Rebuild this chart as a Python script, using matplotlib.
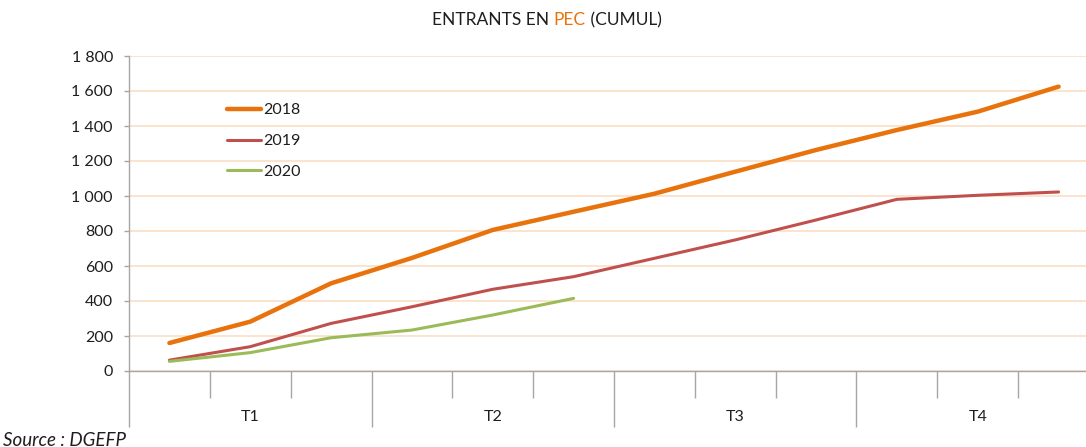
import numpy as np
import matplotlib.pyplot as plt
from matplotlib import transforms

plt.rcParams['font.family'] = ['Lato', 'DejaVu Sans']

# cumulative entries per month
months = np.arange(12)
quarters = ["T1", "T2", "T3", "T4"]
y2018 = [160, 282, 501, 646, 806, 910, 1013, 1139, 1263, 1377, 1482, 1625]
y2019 = [62, 139, 272, 367, 467, 539, 644, 749, 863, 981, 1004, 1023]
y2020 = [55, 105, 190, 234, 320, 415]

W, H = 1086, 447
fig = plt.figure(figsize=(W / 100, H / 100), dpi=100)

# axes box in pixels: x 129 -> 1099 (runs past the right edge), y 56 -> 371
left, right, top, bottom = 129, 1099, 56, 371
ax = fig.add_axes([left / W, 1 - bottom / H, (right - left) / W, (bottom - top) / H])

grid_col = "#FCDEC4"
axis_col = "#A6A6A6"
txt_col = "#1E1E1E"
fs = 11.5

ax.plot(months, y2018, color="#E8720C", lw=3.2, solid_capstyle="round", label="2018", zorder=4)
ax.plot(months, y2019, color="#C0504D", lw=2.2, solid_capstyle="round", label="2019", zorder=3)
ax.plot(months[:len(y2020)], y2020, color="#9BBB59", lw=2.2, solid_capstyle="round", label="2020", zorder=3)

ax.set_xlim(-0.5, 11.5)
ax.set_ylim(0, 1800)
ax.set_yticks(np.arange(0, 1801, 200))
ax.set_yticklabels(["{:,}".format(v).replace(",", " ") for v in range(0, 1801, 200)], fontsize=fs, color=txt_col)
ax.grid(axis="y", color=grid_col, lw=1.2)
ax.set_axisbelow(True)

# month separators (minor) and quarter separators (major)
ax.set_xticks([-0.5, 2.5, 5.5, 8.5, 11.5])
ax.set_xticks([m + 0.5 for m in range(11) if (m + 1) % 3 != 0], minor=True)
ax.set_xticklabels([])
ax.tick_params(axis="x", which="major", length=56 * 0.72, color=axis_col, width=1)
ax.tick_params(axis="x", which="minor", length=27 * 0.72, color=axis_col, width=1)
ax.tick_params(axis="y", length=3.6, color=axis_col, width=1, pad=8)

for s in ["top", "right"]:
    ax.spines[s].set_visible(False)
for s in ["left", "bottom"]:
    ax.spines[s].set_color(axis_col)
    ax.spines[s].set_linewidth(1)

trans = transforms.blended_transform_factory(ax.transData, fig.transFigure)
for i, q in enumerate(quarters):
    ax.text(3 * i + 1, 1 - 417 / H, q, transform=trans, ha="center", va="center",
            fontsize=fs, color=txt_col)

leg = ax.legend(loc="upper left", bbox_to_anchor=(227 / W, 1 - 103 / H),
                bbox_transform=fig.transFigure, frameon=False, fontsize=fs,
                handlelength=2.1, handletextpad=0.15, labelspacing=1.05, borderaxespad=0,
                borderpad=0)
for t in leg.get_texts():
    t.set_color(txt_col)

# title with "PEC" highlighted
fig.canvas.draw()
r = fig.canvas.get_renderer()
parts = [("ENTRANTS EN ", txt_col), ("PEC", "#E8720C"), (" (CUMUL)", txt_col)]
tfs = 12.5
widths = []
for s, c in parts:
    tmp = fig.text(0, 0, s, fontsize=tfs)
    widths.append(tmp.get_window_extent(r).width)
    tmp.remove()
x0 = 547 - sum(widths) / 2
for (s, c), w in zip(parts, widths):
    fig.text(x0 / W, 1 - 20 / H, s, fontsize=tfs, color=c, ha="left", va="center")
    x0 += w

fig.text(3 / W, 1 - 440 / H, "Source : DGEFP", fontsize=13.5, style="italic",
         color=txt_col, ha="left", va="center")

fig.savefig("out.png", dpi=100)
